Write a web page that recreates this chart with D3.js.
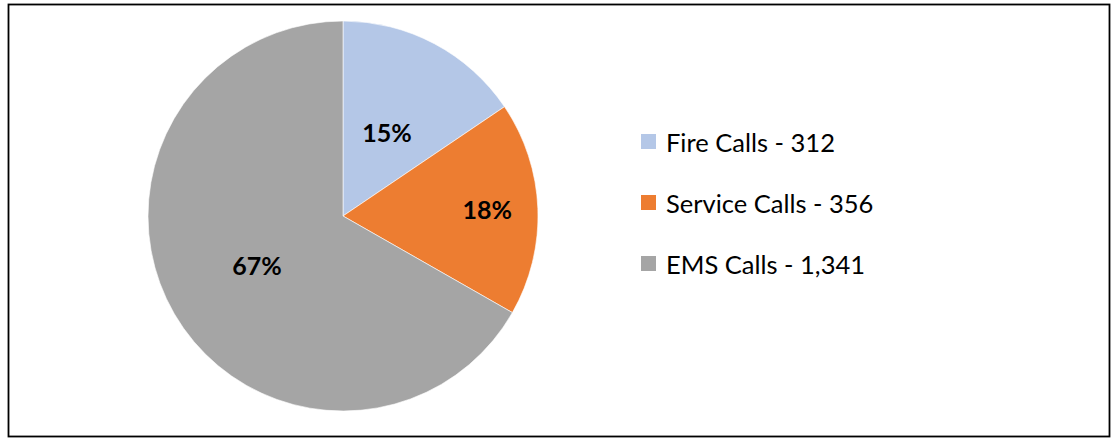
<!DOCTYPE html>
<html><head><meta charset="utf-8">
<script src="https://cdn.jsdelivr.net/npm/d3@7"></script>
<style>html,body{margin:0;padding:0;background:#fff;}</style>
</head><body>
<svg id="chart" width="1116" height="440"></svg>
<script>
const categories = ["Fire Calls", "Service Calls", "EMS Calls"];
const values = [312, 356, 1341];
const percentLabels = ["15%", "18%", "67%"];
const colors = ["#B4C7E7", "#ED7D31", "#A5A5A5"];

const svg = d3.select("#chart");
const W = 1116, H = 440;

svg.append("rect").attr("x", 8.5).attr("y", 4.5).attr("width", 1101).attr("height", 432)
  .attr("fill", "#fff").attr("stroke", "#000").attr("stroke-width", 1.8);

const cx = 343, cy = 216, R = 195;
const g = svg.append("g").attr("transform", `translate(${cx},${cy})`);
const data = categories.map((c, i) => ({ name: c, value: values[i], label: percentLabels[i], color: colors[i] }));
const pie = d3.pie().sort(null).value(d => d.value);
const arcs = pie(data);
const arc = d3.arc().innerRadius(0).outerRadius(R);

g.selectAll("path").data(arcs).join("path")
  .attr("d", arc).attr("fill", d => d.data.color)
  .attr("stroke", "#fff").attr("stroke-width", 0.6);

const labelFrac = [0.48, 0.74, 0.51];
g.selectAll("text.pct").data(arcs).join("text")
  .attr("class", "pct")
  .attr("transform", (d, i) => {
    const r = R * labelFrac[i];
    const a = (d.startAngle + d.endAngle) / 2;
    return `translate(${r * Math.sin(a)},${-r * Math.cos(a)})`;
  })
  .attr("text-anchor", "middle").attr("dy", "0.36em")
  .attr("font-family", "Lato, 'Open Sans', sans-serif").attr("font-weight", "bold")
  .attr("font-size", 25).attr("fill", "#000")
  .text(d => d.data.label);

const fmt = d3.format(",");
const lg = svg.append("g").attr("transform", "translate(641,134)");
const rowStep = 61;
const rows = lg.selectAll("g").data(data).join("g")
  .attr("transform", (d, i) => `translate(0,${i * rowStep})`);
rows.append("rect").attr("width", 15).attr("height", 15).attr("fill", d => d.color);
rows.append("text").attr("x", 25).attr("y", 17.5)
  .attr("font-family", "Lato, 'Open Sans', sans-serif").attr("font-size", 25.5).attr("fill", "#000")
  .text(d => `${d.name} - ${fmt(d.value)}`);
</script>
</body></html>
